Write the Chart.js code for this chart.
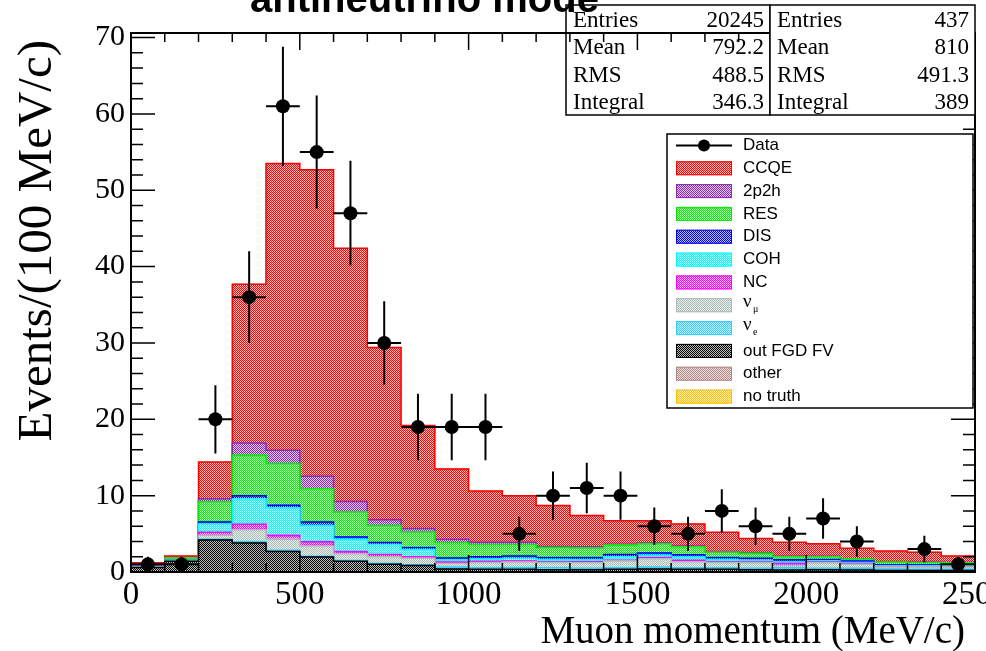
<!DOCTYPE html>
<html>
<head>
<meta charset="utf-8">
<script src="https://cdn.jsdelivr.net/npm/chart.js@4.4.1/dist/chart.umd.min.js"></script>
<style>
  html, body { margin: 0; padding: 0; background: #fff; }
  #wrap { width: 986px; height: 651px; position: relative; }
  canvas { display: block; }
</style>
</head>
<body>
<div id="wrap"><canvas id="c" width="986" height="651"></canvas></div>
<script>
// Bins: 100 MeV/c wide, 0 - 2500 MeV/c
const binWidth = 100;
const binCentres = [50, 150, 250, 350, 450, 550, 650, 750, 850, 950, 1050, 1150, 1250,
                    1350, 1450, 1550, 1650, 1750, 1850, 1950, 2050, 2150, 2250, 2350, 2450];

// Observed events per bin
const dataCounts = [1, 1, 20, 36, 61, 55, 47, 30, 19, 19, 19, 5, 10, 11, 10, 6, 5, 8, 6, 5, 7, 4, 0, 3, 1];

// Simulated contributions per bin (stacked bottom to top)
const noTruth  = [0, 0, 0, 0, 0, 0, 0, 0, 0, 0, 0, 0, 0, 0, 0, 0, 0, 0, 0, 0, 0, 0, 0, 0, 0];
const other    = [0, 0, 0, 0, 0, 0, 0, 0, 0, 0, 0, 0, 0, 0, 0, 0, 0, 0, 0, 0, 0, 0, 0, 0, 0];
const outFgdFv = [0.6, 1.4, 4.2, 3.8, 2.7, 1.95, 1.4, 1.0, 0.85, 0.4, 0.35, 0.35, 0.3, 0.3, 0.35, 0.4, 0.35, 0.35, 0.3, 0.25, 0.3, 0.25, 0.2, 0.2, 0.2];
const nuE      = [0, 0, 0.1, 0.15, 0.15, 0.1, 0.1, 0.1, 0.1, 0.25, 0.2, 0.25, 0.25, 0.2, 0.2, 0.25, 0.2, 0.2, 0.2, 0.3, 0.2, 0.25, 0.2, 0.15, 0.15];
const nuMu     = [0.1, 0.1, 0.5, 1.6, 1.45, 1.35, 0.9, 0.9, 0.85, 0.45, 0.7, 0.7, 0.7, 0.7, 0.9, 1.1, 0.8, 0.7, 0.7, 0.3, 0.7, 0.5, 0.25, 0.3, 0.3];
const ncVals   = [0.05, 0, 0.4, 0.7, 0.5, 0.55, 0.3, 0.3, 0.2, 0.2, 0.15, 0.15, 0.1, 0.15, 0.1, 0.15, 0.2, 0.1, 0.1, 0.25, 0.1, 0.1, 0.05, 0.05, 0.05];
const cohVals  = [0, 0.05, 1.1, 3.35, 3.6, 2.15, 1.6, 1.3, 0.95, 0.3, 0.3, 0.35, 0.3, 0.25, 0.45, 0.3, 0.4, 0.3, 0.25, 0.2, 0.15, 0.15, 0.1, 0.1, 0.1];
const disVals  = [0.05, 0.05, 0.25, 0.4, 0.35, 0.45, 0.3, 0.25, 0.25, 0.25, 0.3, 0.3, 0.25, 0.3, 0.3, 0.3, 0.3, 0.25, 0.25, 0.3, 0.2, 0.2, 0.15, 0.15, 0.15];
const resVals  = [0.2, 0.25, 2.65, 5.3, 5.45, 4.35, 3.25, 2.25, 2.05, 2.0, 1.6, 1.5, 1.3, 1.25, 1.25, 1.2, 1.05, 0.7, 0.65, 0.4, 0.35, 0.25, 0.35, 0.3, 0.25];
const twoP2h   = [0, 0, 0.4, 1.6, 1.75, 1.65, 1.4, 0.75, 0.45, 0.45, 0.3, 0.3, 0.15, 0.15, 0.1, 0.1, 0.1, 0.1, 0.1, 0.05, 0.05, 0.05, 0.05, 0.05, 0.05];
const ccqe     = [0.2, 0.25, 4.8, 20.8, 37.55, 40.15, 33.15, 22.55, 13.5, 9.2, 6.7, 6.1, 5.35, 4.1, 3.05, 2.9, 2.9, 2.5, 1.85, 1.85, 1.65, 1.35, 1.4, 1.3, 0.85];

// Statistics boxes
const statNames = ['Entries', 'Mean', 'RMS', 'Integral'];
const statsMc   = ['20245', '792.2', '488.5', '346.3'];
const statsData = ['437', '810', '491.3', '389'];

// Axis ranges and tick spacing
const xMin = 0, xMax = 2500, xMajor = 500, xMinor = 100;
const yMin = 0, yMax = 70.6, yMajor = 10, yMinor = 2;

const titleText = 'antineutrino mode';
const xTitle = 'Muon momentum (MeV/c)';
const yTitle = 'Events/(100 MeV/c)';

const canvas = document.getElementById('c');
const ctx = canvas.getContext('2d');

// ROOT-like stippled fill
function stipple(col) {
  const t = document.createElement('canvas');
  t.width = 2; t.height = 2;
  const g = t.getContext('2d');
  g.fillStyle = col; g.fillRect(0, 0, 2, 2);
  g.fillStyle = 'rgba(255,255,255,0.75)';
  g.fillRect(1, 0, 1, 1);
  g.fillRect(0, 1, 1, 1);
  return ctx.createPattern(t, 'repeat');
}

// Stack, bottom first
const layers = [
  { name: 'no truth',   vals: noTruth,  col: '#ffc000' },
  { name: 'other',      vals: other,    col: '#b48787' },
  { name: 'out FGD FV', vals: outFgdFv, col: '#000000' },
  { name: 'nue',        vals: nuE,      col: '#33ccff' },
  { name: 'numu',       vals: nuMu,     col: '#a9bdb4' },
  { name: 'NC',         vals: ncVals,   col: '#ff00ff' },
  { name: 'COH',        vals: cohVals,  col: '#00ffff' },
  { name: 'DIS',        vals: disVals,  col: '#0000ff' },
  { name: 'RES',        vals: resVals,  col: '#00ee00' },
  { name: '2p2h',       vals: twoP2h,   col: '#8a2bb5' },
  { name: 'CCQE',       vals: ccqe,     col: '#ff0000' }
];
layers.forEach(l => { l.fill = stipple(l.col); });

const datasets = [];
let base = binCentres.map(() => 0);
layers.forEach((l, k) => {
  const top = base.map((b, i) => b + l.vals[i]);
  datasets.push({
    type: 'bar', label: l.name, xAxisID: 'xc', yAxisID: 'y',
    data: base.map((b, i) => [b, top[i]]),
    backgroundColor: l.fill, borderWidth: 0, grouped: false,
    barPercentage: 1, categoryPercentage: 1,
    order: 100 + 2 * k + 1
  });
  const steps = binCentres.map((c, i) => ({ x: c - binWidth / 2, y: top[i] }));
  steps.push({ x: binCentres[binCentres.length - 1] + binWidth / 2, y: top[top.length - 1] });
  datasets.push({
    type: 'line', label: l.name + ' outline', xAxisID: 'x', yAxisID: 'y',
    data: steps, stepped: 'before', borderColor: l.col, borderWidth: 1.5,
    pointRadius: 0, fill: false, order: 100 + 2 * k
  });
  base = top;
});

const dataPoints = [];
binCentres.forEach((c, i) => { if (dataCounts[i] > 0) dataPoints.push({ x: c, y: dataCounts[i] }); });
datasets.push({
  type: 'scatter', label: 'Data', xAxisID: 'x', yAxisID: 'y',
  data: dataPoints, pointRadius: 7, pointHoverRadius: 7,
  backgroundColor: '#000', borderColor: '#000', borderWidth: 0, order: 0
});

function drawStatsBox(g, x0, y0, x1, y1, values) {
  g.fillStyle = '#fff';
  g.fillRect(x0, y0, x1 - x0, y1 - y0);
  g.strokeStyle = '#000'; g.lineWidth = 1.5;
  g.strokeRect(x0, y0, x1 - x0, y1 - y0);
  g.fillStyle = '#000';
  g.font = '23px "Liberation Serif"';
  g.textBaseline = 'middle';
  const rowH = (y1 - y0) / statNames.length;
  statNames.forEach((n, i) => {
    const yy = y0 + rowH * (i + 0.5) + 2;
    g.textAlign = 'left'; g.fillText(n, x0 + 7, yy);
    g.textAlign = 'right'; g.fillText(values[i], x1 - 6, yy);
  });
}

const legendRows = ['Data', 'CCQE', '2p2h', 'RES', 'DIS', 'COH', 'NC', 'numu', 'nue', 'out FGD FV', 'other', 'no truth'];

function drawLegend(g) {
  const x0 = 667, y0 = 134, x1 = 973, y1 = 408;
  g.fillStyle = '#fff'; g.fillRect(x0, y0, x1 - x0, y1 - y0);
  g.strokeStyle = '#000'; g.lineWidth = 1.5; g.strokeRect(x0, y0, x1 - x0, y1 - y0);
  const rowH = (y1 - y0) / legendRows.length;
  const sx0 = 676, sx1 = 732, tx = 743;
  legendRows.forEach((name, i) => {
    const yc = y0 + rowH * (i + 0.5);
    if (name === 'Data') {
      g.strokeStyle = '#000'; g.lineWidth = 2;
      g.beginPath(); g.moveTo(sx0, yc); g.lineTo(sx1, yc); g.stroke();
      g.fillStyle = '#000';
      g.beginPath(); g.arc((sx0 + sx1) / 2, yc, 6, 0, Math.PI * 2); g.fill();
    } else {
      const l = layers.find(q => q.name === name);
      g.fillStyle = l.fill; g.fillRect(sx0, yc - 7, sx1 - sx0, 14);
      g.strokeStyle = l.col; g.lineWidth = 1; g.strokeRect(sx0 + 0.5, yc - 6.5, sx1 - sx0 - 1, 13);
    }
    g.fillStyle = '#000'; g.textAlign = 'left'; g.textBaseline = 'middle';
    if (name === 'numu' || name === 'nue') {
      g.font = '19px "Liberation Serif"';
      g.fillText('\u03bd', tx, yc - 3);
      g.font = '10px "Liberation Serif"';
      g.fillText(name === 'numu' ? '\u03bc' : 'e', tx + 10, yc + 4);
    } else {
      g.font = '17px "Liberation Sans"';
      g.fillText(name, tx, yc);
    }
  });
}

const rootStyle = {
  id: 'rootStyle',
  beforeDatasetDraw(chart, args) {
    if (args.meta.type !== 'scatter') return;
    const g = chart.ctx, xs = chart.scales.x, ys = chart.scales.y, a = chart.chartArea;
    g.save();
    g.beginPath(); g.rect(a.left, a.top, a.right - a.left, a.bottom - a.top); g.clip();
    g.strokeStyle = '#000'; g.lineWidth = 2;
    g.beginPath();
    dataPoints.forEach(p => {
      const err = Math.sqrt(p.y);
      const px = xs.getPixelForValue(p.x), py = ys.getPixelForValue(p.y);
      g.moveTo(px, ys.getPixelForValue(p.y - err)); g.lineTo(px, ys.getPixelForValue(p.y + err));
      g.moveTo(xs.getPixelForValue(p.x - binWidth / 2), py); g.lineTo(xs.getPixelForValue(p.x + binWidth / 2), py);
    });
    g.stroke();
    g.restore();
  },
  afterDraw(chart) {
    const g = chart.ctx, a = chart.chartArea, xs = chart.scales.x, ys = chart.scales.y;
    g.save();
    drawStatsBox(g, 566, 5, 770, 115, statsMc);

    // frame with inward ticks on all four sides
    g.strokeStyle = '#000'; g.lineWidth = 2;
    g.strokeRect(a.left, a.top, a.right - a.left, a.bottom - a.top);
    g.lineWidth = 1.5;
    g.beginPath();
    for (let v = xMin; v <= xMax; v += xMinor) {
      const px = xs.getPixelForValue(v);
      const len = v % xMajor === 0 ? 17 : 9;
      g.moveTo(px, a.bottom); g.lineTo(px, a.bottom - len);
      g.moveTo(px, a.top); g.lineTo(px, a.top + len);
    }
    for (let v = yMin; v <= yMax; v += yMinor) {
      const py = ys.getPixelForValue(v);
      const len = v % yMajor === 0 ? 24 : 12;
      g.moveTo(a.left, py); g.lineTo(a.left + len, py);
      g.moveTo(a.right, py); g.lineTo(a.right - len, py);
    }
    g.stroke();

    drawStatsBox(g, 770, 5, 975, 115, statsData);
    drawLegend(g);

    // titles
    g.fillStyle = '#000';
    g.font = 'bold 40px "Liberation Sans"';
    g.textAlign = 'left'; g.textBaseline = 'alphabetic';
    g.fillText(titleText, 250, 12);

    g.font = '39px "Liberation Serif"';
    g.textAlign = 'right';
    g.fillText(xTitle, 965, 643);

    g.translate(51, 40);
    g.rotate(-Math.PI / 2);
    g.font = '49px "Liberation Serif"';
    g.textAlign = 'right';
    g.fillText(yTitle, 0, 0);
    g.restore();
  }
};

new Chart(ctx, {
  data: { labels: binCentres, datasets },
  options: {
    responsive: false,
    animation: false,
    events: [],
    layout: { autoPadding: false, padding: { left: 0, right: 11, top: 33, bottom: 0 } },
    plugins: { legend: { display: false }, tooltip: { enabled: false } },
    scales: {
      xc: { type: 'category', labels: binCentres, display: false, offset: true },
      x: {
        type: 'linear', position: 'bottom', min: xMin, max: xMax,
        grid: { display: false, drawTicks: false }, border: { display: false },
        ticks: {
          stepSize: xMajor, autoSkip: false, maxRotation: 0, padding: 4,
          color: '#000', font: { family: 'Liberation Serif', size: 33 },
          callback: v => String(v)
        },
        afterFit(s) { s.height = 79; s.paddingLeft = 0; s.paddingRight = 0; }
      },
      y: {
        type: 'linear', position: 'left', min: yMin, max: yMax,
        grid: { display: false, drawTicks: false }, border: { display: false },
        ticks: {
          stepSize: yMajor, includeBounds: false, padding: 6,
          color: '#000', font: { family: 'Liberation Serif', size: 30 },
          callback: v => String(v)
        },
        afterFit(s) { s.width = 131; s.paddingTop = 0; s.paddingBottom = 0; }
      }
    }
  },
  plugins: [rootStyle]
});
</script>
</body>
</html>
